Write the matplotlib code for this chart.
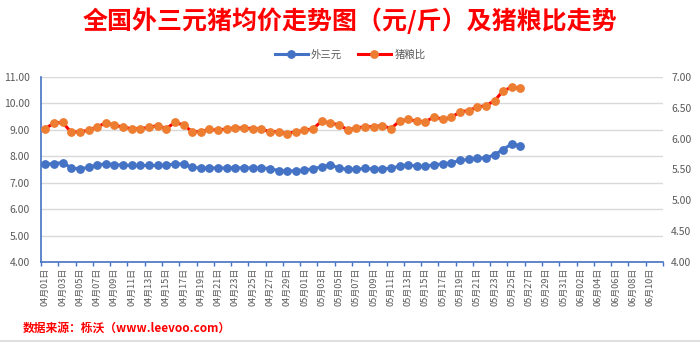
import matplotlib
matplotlib.use("Agg")
import matplotlib.pyplot as plt
import numpy as np
import pandas as pd

plt.rcParams['font.family'] = ['Noto Sans CJK SC', 'DejaVu Sans']

dates = pd.date_range("2021-04-01", periods=72)
categories = [d.strftime("%m月%d日") for d in dates]

# 外三元 (元/斤), 04月01日 - 05月26日
price = [7.70, 7.72, 7.76, 7.56, 7.52, 7.58, 7.66, 7.72, 7.68, 7.67,
         7.65, 7.65, 7.65, 7.65, 7.65, 7.72, 7.70, 7.58, 7.56, 7.55,
         7.56, 7.55, 7.56, 7.56, 7.56, 7.56, 7.53, 7.46, 7.44, 7.45,
         7.48, 7.53, 7.60, 7.68, 7.55, 7.50, 7.51, 7.54, 7.52, 7.52,
         7.55, 7.62, 7.68, 7.62, 7.62, 7.68, 7.71, 7.75, 7.84, 7.88,
         7.93, 7.93, 8.06, 8.25, 8.47, 8.38]
# 猪粮比
ratio = [6.16, 6.25, 6.26, 6.10, 6.11, 6.13, 6.19, 6.25, 6.22, 6.18,
         6.16, 6.16, 6.18, 6.21, 6.16, 6.26, 6.22, 6.11, 6.11, 6.15,
         6.13, 6.16, 6.17, 6.17, 6.16, 6.15, 6.11, 6.11, 6.08, 6.11,
         6.13, 6.16, 6.28, 6.25, 6.22, 6.14, 6.17, 6.19, 6.19, 6.21,
         6.16, 6.28, 6.31, 6.28, 6.27, 6.35, 6.31, 6.34, 6.43, 6.45,
         6.51, 6.53, 6.61, 6.77, 6.83, 6.81]

blue = "#4472C4"
grey = "#595959"

fig = plt.figure(figsize=(7, 3.42), dpi=100)
ax = fig.add_axes([0.0586, 0.233, 0.8885, 0.543])
ax2 = ax.twinx()

x = np.arange(len(categories))
l1, = ax.plot(x[:len(price)], price, color=blue, lw=2.2, marker="o", ms=5.3,
              label="外三元", zorder=3)
l2, = ax2.plot(x[:len(ratio)], ratio, color="#FF0000", lw=2.2, marker="o", ms=5.3,
               mfc="#ED7D31", mec="#ED7D31", label="猪粮比", zorder=3)

ax.set_xlim(-0.5, len(categories) - 0.5)
ax.set_ylim(4, 11)
ax.set_yticks(np.arange(4, 11.01, 1))
ax.set_yticklabels([f"{v:.2f}" for v in np.arange(4, 11.01, 1)])
ax.grid(axis="y", color="#D9D9D9", lw=1)
ax.set_axisbelow(True)

ax2.set_ylim(4, 7)
ax2.set_yticks(np.arange(4, 7.01, 0.5))
ax2.set_yticklabels([f"{v:.2f}" for v in np.arange(4, 7.01, 0.5)])

ax.set_xticks(x[::2])
ax.set_xticklabels(categories[::2], rotation=90)
ax.set_xticks(np.arange(-0.5, len(categories), 2), minor=True)
ax.tick_params(axis="x", which="major", length=0, labelsize=6.5, labelcolor=grey, pad=4)
ax.tick_params(axis="x", which="minor", length=3, color=blue, width=1)
ax.tick_params(axis="y", length=0, labelsize=7.5, labelcolor=grey, pad=8)
ax2.tick_params(axis="y", length=0, labelsize=7.5, labelcolor=grey, pad=6)

for a in (ax, ax2):
    for s in ("top", "right"):
        a.spines[s].set_visible(False)
ax2.spines["left"].set_visible(False)
ax2.spines["bottom"].set_visible(False)
ax.spines["left"].set_color(blue)
ax.spines["bottom"].set_color(blue)
ax.spines["left"].set_linewidth(1.2)
ax.spines["bottom"].set_linewidth(1.2)

fig.text(0.5, 0.94, "全国外三元猪均价走势图（元/斤）及猪粮比走势", ha="center", va="center",
         color="#FF0000", fontsize=18, fontweight="bold")
fig.legend(handles=[l1, l2], loc="center", bbox_to_anchor=(0.5, 0.84), ncol=2,
           frameon=False, fontsize=7.5, labelcolor=grey, handlelength=3.2,
           columnspacing=1.5, handletextpad=0.3)
fig.text(0.033, 0.04, "数据来源：栎沃（www.leevoo.com）", ha="left", va="center",
         color="#FF0000", fontsize=8.5, fontweight="bold")
fig.add_artist(plt.Line2D([0, 1], [0.004, 0.004], color="#D9D9D9", lw=1.2,
                          transform=fig.transFigure))

fig.savefig("out.png", dpi=100)
